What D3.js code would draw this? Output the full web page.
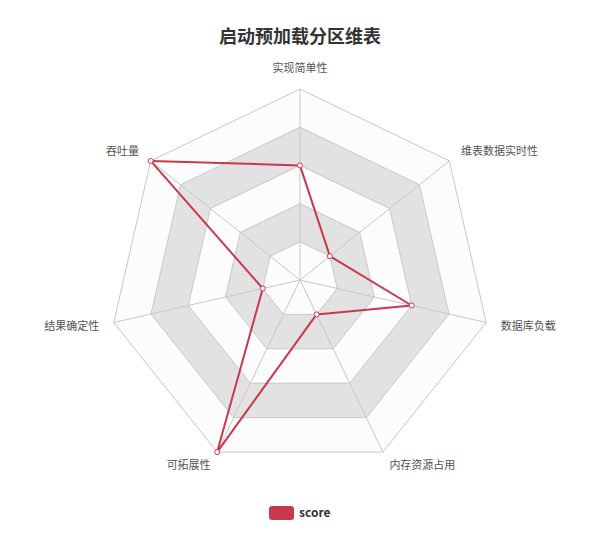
<!DOCTYPE html>
<html>
<head>
<meta charset="utf-8">
<script src="https://cdn.jsdelivr.net/npm/d3@7"></script>
<style>
  body { margin: 0; background: #fff; }
  svg text { font-family: "Noto Sans CJK SC", "Noto Sans", sans-serif; }
</style>
</head>
<body>
<div id="chart"></div>
<script>
const title = "启动预加载分区维表";
const indicators = ["实现简单性", "维表数据实时性", "数据库负载", "内存资源占用", "可拓展性", "结果确定性", "吞吐量"];
const scoreValues = [3, 1, 3, 1, 5, 1, 5];
const maxValue = 5;
const seriesName = "score";

const width = 598, height = 545;
const cx = 300, cy = 280, radius = 191;
const color = "#c9384f";
const rings = 5;

const svg = d3.select("#chart")
  .append("svg")
  .attr("width", width)
  .attr("height", height);

const r = d3.scaleLinear().domain([0, maxValue]).range([0, radius]);
const angle = d3.scaleLinear()
  .domain([0, indicators.length])
  .range([-Math.PI / 2, 1.5 * Math.PI]);

const g = svg.append("g").attr("transform", `translate(${cx},${cy})`);

const pt = (i, v) => [r(v) * Math.cos(angle(i)), r(v) * Math.sin(angle(i))];

// split areas, outermost first so inner ones paint on top
const levels = d3.range(rings, 0, -1).map(k => k * maxValue / rings);
g.selectAll(".area")
  .data(levels)
  .enter()
  .append("path")
  .attr("class", "area")
  .attr("d", v => d3.line()(indicators.map((_, i) => pt(i, v))) + "Z")
  .attr("fill", (v, idx) => ((rings - idx) % 2 === 0) ? "#e2e2e2" : "#fcfcfc");

// split lines
g.selectAll(".ring")
  .data(levels)
  .enter()
  .append("path")
  .attr("class", "ring")
  .attr("d", v => d3.line()(indicators.map((_, i) => pt(i, v))) + "Z")
  .attr("fill", "none")
  .attr("stroke", "#c8c8c8")
  .attr("stroke-width", 1);

// axis lines
g.selectAll(".axis")
  .data(indicators)
  .enter()
  .append("line")
  .attr("class", "axis")
  .attr("x1", 0).attr("y1", 0)
  .attr("x2", (d, i) => pt(i, maxValue)[0])
  .attr("y2", (d, i) => pt(i, maxValue)[1])
  .attr("stroke", "#c8c8c8")
  .attr("stroke-width", 1);

// indicator names
g.selectAll(".name")
  .data(indicators)
  .enter()
  .append("text")
  .attr("class", "name")
  .attr("x", (d, i) => (radius + 15) * Math.cos(angle(i)))
  .attr("y", (d, i) => (radius + 15) * Math.sin(angle(i)))
  .attr("text-anchor", (d, i) => {
    const c = Math.cos(angle(i));
    return c > 0.3 ? "start" : c < -0.3 ? "end" : "middle";
  })
  .attr("dy", (d, i) => Math.sin(angle(i)) < -0.9 ? "-0.2em" : "0.35em")
  .style("font-size", "11px")
  .attr("fill", "#555")
  .text(d => d);

// series
g.append("path")
  .datum(scoreValues)
  .attr("d", d => d3.line()(d.map((v, i) => pt(i, v))) + "Z")
  .attr("fill", "none")
  .attr("stroke", color)
  .attr("stroke-width", 2)
  .attr("stroke-linejoin", "round");

g.selectAll(".dot")
  .data(scoreValues)
  .enter()
  .append("circle")
  .attr("class", "dot")
  .attr("cx", (v, i) => pt(i, v)[0])
  .attr("cy", (v, i) => pt(i, v)[1])
  .attr("r", 2.5)
  .attr("fill", "#fff")
  .attr("stroke", color)
  .attr("stroke-width", 1);

// title
svg.append("text")
  .attr("x", cx)
  .attr("y", 37)
  .attr("dy", "0.35em")
  .attr("text-anchor", "middle")
  .style("font-size", "18px")
  .style("font-weight", "bold")
  .attr("fill", "#333")
  .text(title);

// legend
const legend = svg.append("g").attr("transform", "translate(269,506)");
legend.append("rect")
  .attr("width", 25)
  .attr("height", 14)
  .attr("rx", 3)
  .attr("fill", color);
legend.append("text")
  .attr("x", 30)
  .attr("y", 7)
  .attr("dy", "0.35em")
  .style("font-size", "12px")
  .style("font-weight", "bold")
  .attr("fill", "#333")
  .text(seriesName);
</script>
</body>
</html>
